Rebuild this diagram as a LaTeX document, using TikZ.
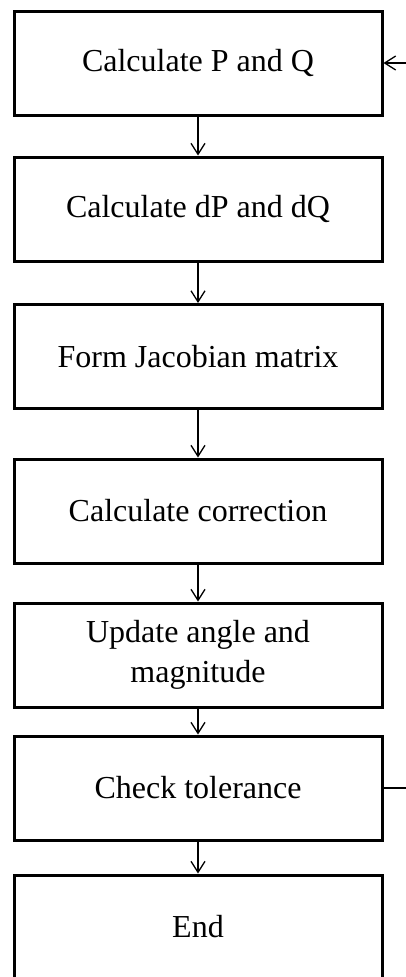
\documentclass[tikz,border=0pt]{standalone}
\usepackage{fontspec}
\setmainfont{Liberation Serif}
\usetikzlibrary{arrows.meta, positioning}

\tikzset{
  stepbox/.style={draw, line width=3pt, minimum width=368pt, minimum height=104pt,
    inner sep=0pt, align=center, font=\fontsize{32}{40}\selectfont},
  flow/.style={-{Straight Barb[length=11pt,width=14pt,line width=1.3pt]}, line width=1.3pt}
}

\begin{document}
\begin{tikzpicture}[x=1pt, y=-1pt]
    \clip (0,0) rectangle (406,977);
    \node[stepbox] (pq) at (198,63) {Calculate P and Q};
    \node[stepbox] (dpq) at (198,209) {Calculate dP and dQ};
    \node[stepbox] (jac) at (198,356.5) {Form Jacobian matrix};
    \node[stepbox] (corr) at (198,511) {Calculate correction};
    \node[stepbox] (upd) at (198,655) {Update angle and\\magnitude};
    \node[stepbox] (tol) at (198,788) {Check tolerance};
    \node[stepbox] (end) at (198,927) {End};
    % main flow
    \draw[flow] (pq) -- (dpq);
    \draw[flow] (dpq) -- (jac);
    \draw[flow] (jac) -- (corr);
    \draw[flow] (corr) -- (upd);
    \draw[flow] (upd) -- (tol);
    \draw[flow] (tol) -- (end);
    % loop back (cut at the edge)
    \coordinate (back) at (406,63);
    \coordinate (out) at (406,788);
    \draw[line width=1.3pt] (tol) -- (out);
    \draw[flow] (back) -- (pq);
\end{tikzpicture}
\end{document}
